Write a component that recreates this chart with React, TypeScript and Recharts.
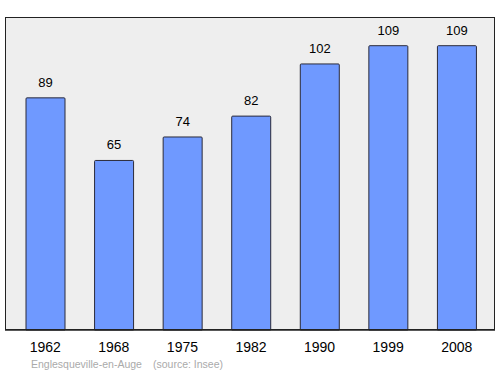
import React from "react";
import { BarChart, Bar, XAxis, YAxis, CartesianGrid, LabelList } from "recharts";

const years = ["1962", "1968", "1975", "1982", "1990", "1999", "2008"];
const population = [89, 65, 74, 82, 102, 109, 109];

const data = years.map((y, i) => ({ year: y, pop: population[i] }));

export default function App() {
  return (
    <div style={{ position: "absolute", left: 0, top: 0, width: 500, height: 374, background: "#fff", fontFamily: "'Liberation Sans', Arial, sans-serif" }}>
      <BarChart width={500} height={374} data={data} margin={{ top: 17, right: 5, left: 5, bottom: 14 }} barCategoryGap={0}>
        <CartesianGrid horizontal={false} vertical={false} fill="#eeeeee" fillOpacity={1} />
        <XAxis
          dataKey="year"
          height={30}
          padding={{ left: 6, right: 4 }}
          axisLine={{ stroke: "#222", strokeWidth: 1.5 }}
          tickLine={false}
          tickMargin={6}
          tick={{ fill: "#000", fontSize: 14 }}
        />
        <YAxis hide domain={[0, 120]} />
        <Bar dataKey="pop" barSize={39} fill="#6f99ff" stroke="#2a2a3a" strokeWidth={1} radius={[1, 1, 0, 0]} isAnimationActive={false}>
          <LabelList dataKey="pop" position="top" offset={11} fill="#000" fontSize={13} />
        </Bar>
      </BarChart>
      <div style={{ position: "absolute", left: 5, top: 17, width: 490, height: 313, border: "1.5px solid #222", boxSizing: "border-box", pointerEvents: "none" }} />
      <div style={{ position: "absolute", left: 31, top: 359, fontSize: 10.5, lineHeight: 1, color: "#aaaaaa", whiteSpace: "pre" }}>
        Englesqueville-en-Auge
      </div>
      <div style={{ position: "absolute", left: 153, top: 359, fontSize: 10.5, lineHeight: 1, color: "#aaaaaa", whiteSpace: "pre" }}>
        (source: Insee)
      </div>
    </div>
  );
}
